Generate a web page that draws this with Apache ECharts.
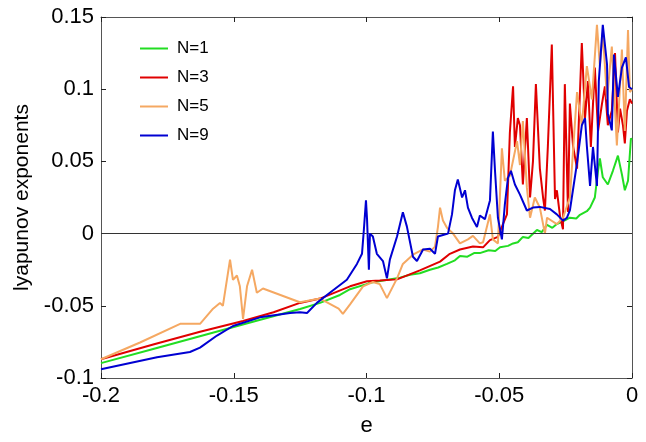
<!DOCTYPE html>
<html>
<head>
<meta charset="utf-8">
<script src="https://cdn.jsdelivr.net/npm/echarts@6/dist/echarts.min.js"></script>
<style>
html,body{margin:0;padding:0;background:#fff;}
#c{width:646px;height:442px;}
</style>
</head>
<body>
<div id="c"></div>
<script>
const seriesNames = ['N=1', 'N=3', 'N=5', 'N=9'];
const xTicks = [-0.2, -0.15, -0.1, -0.05, 0];
const yTicks = [-0.1, -0.05, 0, 0.05, 0.1, 0.15];

const n1 = [[-0.2,-0.0897],[-0.18,-0.0797],[-0.16,-0.0697],[-0.14,-0.0597],[-0.125,-0.0522],[-0.1175,-0.048],[-0.11,-0.0425],[-0.1062,-0.0385],[-0.1,-0.035],[-0.0987,-0.034],[-0.092,-0.032],[-0.0874,-0.0305],[-0.0836,-0.0285],[-0.0799,-0.0275],[-0.0761,-0.025],[-0.073,-0.0235],[-0.0697,-0.021],[-0.0667,-0.0185],[-0.0648,-0.0155],[-0.062,-0.016],[-0.0595,-0.0135],[-0.0573,-0.0135],[-0.054,-0.0115],[-0.0515,-0.012],[-0.0497,-0.0095],[-0.0467,-0.0085],[-0.0448,-0.0068],[-0.043,-0.006],[-0.0411,-0.0023],[-0.039,-0.003],[-0.0358,0.0025],[-0.034,0.001],[-0.032,0.006],[-0.03,0.004],[-0.0283,0.0066],[-0.026,0.0085],[-0.0234,0.011],[-0.021,0.0105],[-0.0196,0.013],[-0.017,0.0155],[-0.0158,0.018],[-0.014,0.025],[-0.0128,0.0435],[-0.0121,0.052],[-0.011,0.039],[-0.0091,0.034],[-0.0072,0.0435],[-0.0053,0.054],[-0.0038,0.041],[-0.0027,0.030],[-0.0015,0.0366],[-0.0004,0.066],[0,0.065]];

const n3 = [[-0.2,-0.087],[-0.18,-0.0766],[-0.1627,-0.068],[-0.1465,-0.0605],[-0.135,-0.0545],[-0.1251,-0.048],[-0.1175,-0.045],[-0.1062,-0.0365],[-0.0998,-0.033],[-0.095,-0.0325],[-0.0885,-0.0317],[-0.0799,-0.0255],[-0.0723,-0.0194],[-0.0686,-0.014],[-0.0648,-0.011],[-0.0599,-0.009],[-0.0561,-0.0095],[-0.0535,-0.0045],[-0.0505,-0.0023],[-0.0486,0.0066],[-0.0471,0.0133],[-0.046,0.07],[-0.0448,0.102],[-0.0441,0.06],[-0.043,0.08],[-0.0422,0.075],[-0.0411,0.034],[-0.0396,0.080],[-0.0384,0.025],[-0.0373,0.05],[-0.0362,0.1035],[-0.0347,0.045],[-0.0335,0.025],[-0.0328,0.016],[-0.0317,0.06],[-0.0302,0.131],[-0.029,0.024],[-0.0283,0.03],[-0.0271,0.012],[-0.026,0.003],[-0.0253,0.1035],[-0.0241,0.015],[-0.0234,0.09],[-0.0222,0.0605],[-0.0207,0.045],[-0.0189,0.132],[-0.0177,0.08],[-0.0166,0.1056],[-0.0155,0.06],[-0.014,0.115],[-0.0128,0.071],[-0.0113,0.09],[-0.0102,0.102],[-0.0091,0.075],[-0.0076,0.085],[-0.0064,0.125],[-0.0053,0.07],[-0.0045,0.0865],[-0.0034,0.075],[-0.0027,0.0625],[-0.0019,0.085],[-0.0008,0.093],[0,0.09]];

const n5 = [[-0.2,-0.087],[-0.1853,-0.0754],[-0.1702,-0.0625],[-0.1627,-0.0625],[-0.1578,-0.052],[-0.1552,-0.048],[-0.1541,-0.050],[-0.1514,-0.018],[-0.1503,-0.032],[-0.1488,-0.029],[-0.1477,-0.0365],[-0.1465,-0.059],[-0.145,-0.0365],[-0.1431,-0.025],[-0.1413,-0.041],[-0.139,-0.038],[-0.1251,-0.0475],[-0.1175,-0.045],[-0.1105,-0.052],[-0.1089,-0.0556],[-0.1062,-0.049],[-0.1013,-0.0365],[-0.0976,-0.0335],[-0.095,-0.035],[-0.0923,-0.0447],[-0.0885,-0.031],[-0.0863,-0.021],[-0.0825,-0.0146],[-0.0787,-0.011],[-0.0761,-0.0125],[-0.0742,-0.009],[-0.0731,0.0045],[-0.0723,0.018],[-0.0712,0.009],[-0.0697,0.004],[-0.0674,0.0],[-0.0648,-0.0068],[-0.0618,-0.004],[-0.0599,-0.0016],[-0.0573,-0.0068],[-0.0561,-0.006],[-0.0535,0.0133],[-0.0524,-0.004],[-0.0505,-0.0068],[-0.049,0.059],[-0.0479,0.0366],[-0.046,0.040],[-0.0433,0.064],[-0.0422,0.0475],[-0.0411,0.078],[-0.0396,0.032],[-0.0384,0.011],[-0.0366,0.025],[-0.0347,0.018],[-0.0328,0.0],[-0.032,0.011],[-0.0283,0.0066],[-0.026,0.011],[-0.0234,0.025],[-0.0207,0.098],[-0.0189,0.075],[-0.017,0.116],[-0.0151,0.093],[-0.0132,0.1445],[-0.0121,0.116],[-0.011,0.139],[-0.0094,0.093],[-0.0076,0.1295],[-0.0057,0.061],[-0.0038,0.1275],[-0.0027,0.071],[-0.0015,0.141],[-0.0008,0.098],[0,0.10]];

const n9 = [[-0.2,-0.094],[-0.1789,-0.0857],[-0.1665,-0.082],[-0.1627,-0.079],[-0.1563,-0.0706],[-0.1503,-0.064],[-0.1401,-0.058],[-0.1288,-0.055],[-0.1251,-0.0545],[-0.1224,-0.055],[-0.1187,-0.048],[-0.1138,-0.041],[-0.1074,-0.032],[-0.1036,-0.021],[-0.1017,-0.014],[-0.101,0.0025],[-0.1002,0.023],[-0.0998,0.01],[-0.0991,-0.025],[-0.0987,0.0],[-0.0976,-0.002],[-0.0961,-0.014],[-0.0938,-0.019],[-0.0923,-0.031],[-0.0912,-0.018],[-0.0885,-0.002],[-0.0863,0.0148],[-0.0848,0.005],[-0.0825,-0.016],[-0.081,-0.019],[-0.0787,-0.011],[-0.0761,-0.0105],[-0.0742,-0.014],[-0.0731,-0.002],[-0.0712,-0.001],[-0.0693,0.0],[-0.0678,0.0133],[-0.0667,0.030],[-0.0656,0.0375],[-0.064,0.025],[-0.0629,0.030],[-0.0618,0.018],[-0.0603,0.011],[-0.0584,0.0045],[-0.0573,0.0125],[-0.0554,0.010],[-0.0535,0.023],[-0.0524,0.0707],[-0.0516,0.0435],[-0.0505,0.011],[-0.049,-0.004],[-0.0479,0.020],[-0.0467,0.0387],[-0.0456,0.0435],[-0.0441,0.034],[-0.0422,0.027],[-0.0396,0.016],[-0.0373,0.018],[-0.0347,0.0185],[-0.0309,0.017],[-0.0283,0.0133],[-0.026,0.009],[-0.0245,0.011],[-0.0234,0.016],[-0.0207,0.049],[-0.0189,0.075],[-0.0177,0.080],[-0.017,0.0605],[-0.0158,0.033],[-0.0147,0.06],[-0.0132,0.033],[-0.0125,0.1056],[-0.011,0.1445],[-0.0094,0.117],[-0.0091,0.083],[-0.0076,0.0715],[-0.0068,0.124],[-0.0053,0.0947],[-0.0038,0.115],[-0.0023,0.122],[-0.0011,0.1015],[0,0.10]];

const colors = ['#22dd22', '#e00000', '#f5a862', '#0000d2'];
const font = 'Liberation Sans, Arial, Helvetica, sans-serif';
const fmt = v => String(+v.toFixed(2));

const chart = echarts.init(document.getElementById('c'), null, {renderer: 'canvas'});
const axisCommon = {
  type: 'value',
  splitLine: {show: false},
  axisLine: {show: true, onZero: false, lineStyle: {color: '#555', width: 1}},
  axisTick: {show: true, inside: true, length: 5, lineStyle: {color: '#222'}}
};
chart.setOption({
  animation: false,
  backgroundColor: '#fff',
  color: colors,
  grid: {left: 101, right: 14, top: 17, bottom: 59, containLabel: false},
  legend: {
    orient: 'vertical', left: 135, top: 35,
    icon: 'rect',
    itemWidth: 28, itemHeight: 2, itemGap: 12,
    textStyle: {fontFamily: font, fontSize: 17, color: '#000', padding: [0, 0, 0, 4]},
    data: seriesNames
  },
  xAxis: [
    Object.assign({}, axisCommon, {
      position: 'bottom', min: xTicks[0], max: xTicks[xTicks.length - 1], interval: 0.05,
      name: 'e', nameLocation: 'middle', nameGap: 37,
      nameTextStyle: {fontFamily: font, fontSize: 22, color: '#000'},
      axisLabel: {fontFamily: font, fontSize: 22, color: '#000', margin: 7, formatter: fmt}
    }),
    Object.assign({}, axisCommon, {
      position: 'top', min: xTicks[0], max: xTicks[xTicks.length - 1], interval: 0.05,
      axisLabel: {show: false}
    })
  ],
  yAxis: [
    Object.assign({}, axisCommon, {
      position: 'left', min: yTicks[0], max: yTicks[yTicks.length - 1], interval: 0.05,
      name: 'lyapunov exponents', nameLocation: 'middle', nameGap: 66,
      nameTextStyle: {fontFamily: font, fontSize: 21, color: '#000'},
      axisLabel: {fontFamily: font, fontSize: 22, color: '#000', margin: 7, formatter: fmt}
    }),
    Object.assign({}, axisCommon, {
      position: 'right', min: yTicks[0], max: yTicks[yTicks.length - 1], interval: 0.05,
      axisLabel: {show: false}
    })
  ],
  series: [n1, n3, n5, n9].map((d, i) => ({
    name: seriesNames[i],
    type: 'line',
    data: d,
    symbol: 'none',
    lineStyle: {width: 2, color: colors[i]},
    itemStyle: {color: colors[i]},
    z: 2 + i,
    markLine: i === 0 ? {
      silent: true, symbol: 'none', label: {show: false},
      lineStyle: {color: '#333', width: 1, type: 'solid'},
      data: [{yAxis: 0}]
    } : undefined
  }))
});
</script>
</body>
</html>
